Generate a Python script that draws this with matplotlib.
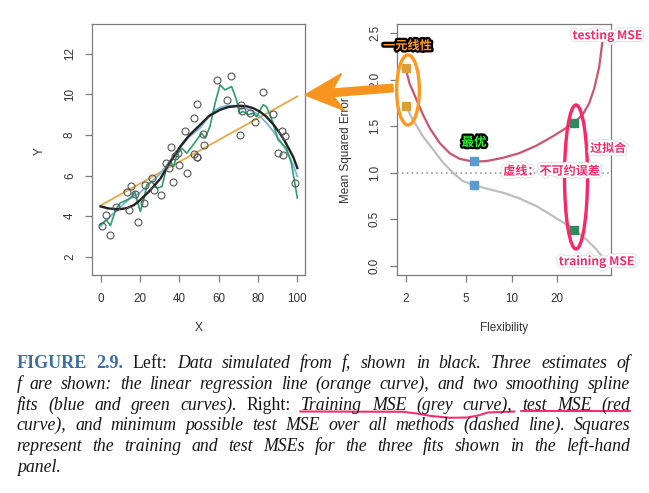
import numpy as np
import matplotlib
matplotlib.use("Agg")
import matplotlib.pyplot as plt
from matplotlib.patches import Ellipse, FancyArrow
from matplotlib.lines import Line2D
from matplotlib.ticker import NullLocator
import matplotlib.patheffects as pe

# ---------------- data: left panel ----------------
obs_x = [0.8, 3.0, 4.7, 7.6, 13.5, 15.5, 14.3, 17.7, 19.1, 22.3, 22.4, 26.1, 27.0,
         30.7, 33.2, 34.9, 35.6, 36.8, 37.9, 39.3, 40.1, 42.8, 43.8, 47.6, 48.9,
         47.7, 48.9, 49.2, 52.3, 52.8, 59.0, 64.1, 66.4, 70.8, 71.5, 72.0, 76.2,
         78.4, 82.5, 87.4, 90.2, 92.3, 92.7, 93.9, 98.7]
obs_y = [3.53, 4.04, 3.07, 4.45, 5.20, 5.51, 4.28, 5.10, 3.69, 4.63, 5.55, 5.88, 5.27,
         5.05, 6.61, 6.37, 7.43, 5.68, 6.98, 7.11, 6.52, 8.21, 6.15, 8.86, 9.52,
         7.07, 6.94, 6.91, 8.04, 7.52, 10.69, 9.70, 10.93, 8.01, 9.47, 9.16, 9.08,
         8.63, 10.11, 9.04, 7.11, 8.21, 7.02, 7.94, 5.63]

true_x = [0, 4, 7.6, 10.5, 13.5, 17, 20, 25, 30.4, 35, 40.5, 45, 50.6, 55, 60.7,
          65, 70.8, 74, 77.6, 81, 84.3, 88, 91, 93.5, 96, 98, 100]
true_y = [4.48, 4.38, 4.35, 4.35, 4.40, 4.55, 4.78, 5.25, 5.85, 6.60, 7.43, 7.98,
          8.50, 8.93, 9.24, 9.38, 9.44, 9.42, 9.32, 9.15, 8.90, 8.50, 8.10, 7.72,
          7.27, 6.90, 6.37]

lin_x = [0, 100]
lin_y = [4.53, 9.90]

blue_x = [0, 3, 6.7, 10, 13.5, 17, 20, 25, 30.4, 35, 40.5, 45, 50.6, 54, 57.3, 60.5,
          64, 67.5, 70.8, 74, 77.6, 81, 84.3, 88, 91, 93.5, 96, 98, 100]
blue_y = [3.50, 3.80, 4.15, 4.45, 4.75, 5.00, 5.15, 5.62, 6.10, 6.70, 7.40, 7.90,
          8.35, 8.78, 9.16, 9.35, 9.44, 9.45, 9.40, 9.30, 9.16, 8.92, 8.60, 8.15,
          7.76, 7.38, 6.94, 6.50, 5.96]

green_x = [0, 3, 5, 7.6, 10, 13.5, 16, 17.4, 18.5, 20.2, 21.9, 23.6, 26, 28.7, 31.2,
           33.7, 35.4, 37.1, 38.8, 41.3, 43.8, 46.4, 48.9, 51.4, 53.1, 55.6, 58.2,
           60.7, 63.2, 64.9, 66.6, 69.1, 70.5, 72.5, 75, 77.6, 79.3, 82.6, 84.3,
           86, 87.7, 90.2, 91.9, 94.4, 97, 100]
green_y = [3.58, 3.82, 3.53, 4.30, 4.65, 4.80, 4.97, 5.20, 4.80, 4.23, 4.80, 5.55,
           5.70, 5.38, 5.46, 6.45, 6.70, 6.45, 7.03, 7.35, 7.10, 7.43, 7.76, 8.09,
           7.85, 8.42, 9.57, 10.47, 10.22, 10.30, 10.39, 9.73, 9.08, 9.16, 9.00,
           9.08, 8.90, 9.49, 9.40, 9.00, 8.58, 7.76, 7.60, 7.35, 6.60, 4.90]

left_xticks = [0, 20, 40, 60, 80, 100]
left_yticks = [2, 4, 6, 8, 10, 12]

# ---------------- data: right panel ----------------
test_flex = [2.0, 2.12, 2.35, 2.6, 2.88, 3.35, 3.9, 4.53, 5.54, 6.8, 8.74, 11.2,
             14.5, 18.6, 22.8, 25.9, 29.4, 32.5, 35.1, 37.8, 39.8]
test_mse = [2.12, 1.96, 1.79, 1.625, 1.48, 1.32, 1.21, 1.15, 1.12, 1.125, 1.16,
            1.21, 1.29, 1.39, 1.48, 1.54, 1.625, 1.75, 1.91, 2.14, 2.43]

train_flex = [2.0, 2.23, 2.6, 3.03, 3.52, 4.1, 4.76, 5.6, 6.8, 8.74, 11.2, 14.5,
              18.6, 22.8, 25.9, 30.9, 36.0, 39.8]
train_mse = [1.72, 1.57, 1.39, 1.25, 1.11, 1.00, 0.91, 0.87, 0.83, 0.786, 0.725,
             0.643, 0.536, 0.446, 0.39, 0.286, 0.18, 0.09]

fit_flex = [2.0, 5.6, 25.9]
fit_test = [2.13, 1.13, 1.53]
fit_train = [1.72, 0.87, 0.38]
fit_colors = ["#D9A03A", "#5B9BD0", "#2F8A60"]

irreducible = 1.0
right_xticks = [2, 5, 10, 20]
right_yticks = [0.0, 0.5, 1.0, 1.5, 2.0, 2.5]

# ---------------- figure ----------------
W, H = 649, 493
fig = plt.figure(figsize=(W / 100, H / 100), dpi=100)
fig.patch.set_facecolor("white")

def fx(x):
    return x / W

def fy(y):
    return 1 - y / H

TICKFONT = ["Liberation Sans", "DejaVu Sans"]
SPINE = "#7a7a7a"
LAB = "#333333"

def style_axes(ax):
    for s in ax.spines.values():
        s.set_color(SPINE)
        s.set_linewidth(0.9)
    ax.tick_params(direction="out", length=4.8, width=0.9, color=SPINE,
                   labelcolor=LAB, labelsize=8.4)
    for lab in ax.get_xticklabels() + ax.get_yticklabels():
        lab.set_family(TICKFONT)

# Left panel
axL = fig.add_axes([fx(92.3), fy(275), (305 - 92.3) / W, (275 - 24) / H])
axL.plot(lin_x, lin_y, color="#E6AA45", lw=1.3, zorder=2)
axL.plot(blue_x, blue_y, color="#7DB4DE", lw=1.3, zorder=3)
axL.plot(green_x, green_y, color="#2E9C6C", lw=1.2, zorder=3)
axL.plot(true_x, true_y, color="#222222", lw=1.7, zorder=4)
axL.plot(obs_x, obs_y, linestyle="none", marker="o", ms=5, mfc="none",
         mec="#555555", mew=0.8, zorder=5)
axL.set_xlim(-4.2, 103.9)
axL.set_ylim(1.1, 13.47)
axL.set_xticks(left_xticks)
axL.set_yticks(left_yticks)
axL.set_xticklabels([str(v) for v in left_xticks])
axL.set_yticklabels([str(v) for v in left_yticks])
style_axes(axL)
axL.tick_params(axis="x", pad=8)
axL.tick_params(axis="y", pad=7, labelrotation=90)
for lab in axL.get_yticklabels():
    lab.set_va("center")

# Right panel
axR = fig.add_axes([fx(397.3), fy(275), (611 - 397.3) / W, (275 - 24) / H])
axR.set_xscale("log")
axR.axhline(irreducible, color="#8a8a8a", lw=1.1, ls=(0, (1, 2.2)), zorder=1)
axR.plot(train_flex, train_mse, color="#BDBDBD", lw=1.6, zorder=2)
axR.plot(test_flex, test_mse, color="#C9566F", lw=1.6, zorder=2)
for xv, t1, t2, c in zip(fit_flex, fit_test, fit_train, fit_colors):
    axR.plot([xv, xv], [t1, t2], linestyle="none", marker="s", ms=5.4,
             color=c, zorder=4)
axR.set_xlim(1.76, 45.2)
axR.set_ylim(-0.1, 2.6)
axR.set_xticks(right_xticks)
axR.set_xticklabels([str(v) for v in right_xticks])
axR.xaxis.set_minor_locator(NullLocator())
axR.set_yticks(right_yticks)
axR.set_yticklabels(["%.1f" % v for v in right_yticks])
style_axes(axR)
axR.tick_params(axis="x", pad=8)
axR.tick_params(axis="y", pad=7, labelrotation=90)
for lab in axR.get_yticklabels():
    lab.set_va("center")

# axis labels
fig.text(fx(40), fy(151), "Y", rotation=90, ha="center", va="center",
         fontsize=8.6, color=LAB, family=TICKFONT)
fig.text(fx(199), fy(328), "X", ha="center", va="center",
         fontsize=8.6, color=LAB, family=TICKFONT)
fig.text(fx(346), fy(150), "Mean Squared Error", rotation=90, ha="center",
         va="center", fontsize=8.4, color=LAB, family=TICKFONT)
fig.text(fx(504), fy(328), "Flexibility", ha="center", va="center",
         fontsize=8.4, color=LAB, family=TICKFONT)

# ---------------- annotations ----------------
CJK = ["Noto Sans CJK SC", "DejaVu Sans"]
PINK = "#F42D6B"
ORANGE = "#F7941D"
pink_fx = [pe.Stroke(linewidth=4.2, foreground="#d8d8d8"),
           pe.Stroke(linewidth=3.2, foreground="white"), pe.Normal()]
dark_fx = [pe.Stroke(linewidth=3.2, foreground="black"), pe.Normal()]

def inch(x, y):
    return (x / 100, (H - y) / 100)

ell1 = Ellipse(inch(408, 90), 22.7 / 100, 70 / 100, fill=False,
               ec="#FF981E", lw=2.4, transform=fig.dpi_scale_trans, zorder=20)
ell2 = Ellipse(inch(576, 177), 23 / 100, 144 / 100, fill=False,
               ec="#FF2466", lw=2.4, transform=fig.dpi_scale_trans, zorder=20)
fig.add_artist(ell1)
fig.add_artist(ell2)

tx, ty = inch(393, 88)
hx, hy = inch(305, 95)
arrow = FancyArrow(tx, ty, hx - tx, hy - ty, width=0.075, head_width=0.37,
                   head_length=0.38, length_includes_head=True, overhang=0.25,
                   color=ORANGE, transform=fig.dpi_scale_trans, zorder=25)
fig.add_artist(arrow)

fig.text(fx(407.5), fy(46), "一元线性", ha="center", va="center", fontsize=8.8,
         weight="bold", color="#FF9A1E", family=CJK, path_effects=dark_fx,
         zorder=30)
fig.text(fx(474), fy(142.5), "最优", ha="center", va="center", fontsize=9,
         weight="bold", color="#2CF02C", family=CJK, path_effects=dark_fx,
         zorder=30)
fig.text(fx(608), fy(148.5), "过拟合", ha="center", va="center", fontsize=8.6,
         weight="bold", color=PINK, family=CJK, path_effects=pink_fx, zorder=30)
fig.text(fx(551.7), fy(171.2), "虚线：不可约误差", ha="center", va="center",
         fontsize=8.7, weight="bold", color=PINK, family=CJK,
         path_effects=pink_fx, zorder=30)
fig.text(fx(607.3), fy(35.7), "testing MSE", ha="center", va="center",
         fontsize=8.7, weight="bold", color=PINK, family=CJK,
         path_effects=pink_fx, zorder=30)
fig.text(fx(596.7), fy(261.7), "training MSE", ha="center", va="center",
         fontsize=8.7, weight="bold", color=PINK, family=CJK,
         path_effects=pink_fx, zorder=30)

# ---------------- caption ----------------
def words(s, st):
    return [(w, st) for w in s.split()]

caption_lines = [
    words("FIGURE 2.9.", "b") + words("Left:", "r")
    + words("Data simulated from f, shown in black. Three estimates of", "i"),
    words("f are shown: the linear regression line (orange curve), and two smoothing spline", "i"),
    words("fits (blue and green curves).", "i") + words("Right:", "r")
    + words("Training MSE (grey curve), test MSE (red", "i"),
    words("curve), and minimum possible test MSE over all methods (dashed line). Squares", "i"),
    words("represent the training and test MSEs for the three fits shown in the left-hand", "i"),
    words("panel.", "i"),
]
baselines = [368, 389, 409.5, 430, 451, 472]
X0, X1 = 16.7, 630
SERIF = "Liberation Serif"

fig.canvas.draw()
renderer = fig.canvas.get_renderer()

def make_styles(cs):
    return {
        "b": dict(family=SERIF, weight="bold", color="#3A6EA5", size=cs * 1.02),
        "r": dict(family=SERIF, color="#151515", size=cs),
        "i": dict(family=SERIF, style="italic", color="#151515", size=cs),
    }

# choose the largest caption size whose justified gaps stay natural
CS = 12.8
while True:
    styles = make_styles(CS)
    ok = True
    for line in caption_lines[:-1]:
        tmp = [fig.text(0, 0, w, **styles[st]) for w, st in line]
        tot = sum(t.get_window_extent(renderer).width for t in tmp)
        for t in tmp:
            t.remove()
        if (X1 - X0 - tot) / (len(line) - 1) < 4.6:
            ok = False
            break
    if ok or CS < 9:
        break
    CS -= 0.1

placed = []
for k, (line, yb) in enumerate(zip(caption_lines, baselines)):
    texts = [fig.text(0, fy(yb), w, ha="left", va="baseline", **styles[st])
             for w, st in line]
    widths = [t.get_window_extent(renderer).width for t in texts]
    if len(texts) > 1 and k < len(caption_lines) - 1:
        gap = (X1 - X0 - sum(widths)) / (len(texts) - 1)
    else:
        gap = 5.0
    xpos = X0
    row = []
    for t, w in zip(texts, widths):
        t.set_x(fx(xpos))
        row.append((t.get_text(), xpos, xpos + w))
        xpos += w + gap
    placed.append(row)

# pink hand-drawn underline under "Training MSE (grey curve), test MSE (red"
row3 = placed[2]
names = [r[0] for r in row3]
i_tr = names.index("Training")
i_cv = names.index("curve),")
i_te = names.index("test")
seg1 = (row3[i_tr][1] - 1, row3[i_cv][2] + 2)
seg2 = (row3[i_te][1] - 1, row3[-1][2])
wave_frac = [0.0, 0.48, 0.545, 0.61, 0.70, 0.78, 0.83, 0.875, 1.0]
wave_y = [411.5, 411.8, 413.5, 416, 417.8, 417.5, 415.5, 412.5, 411.5]
ul1_x = [seg1[0] + f * (seg1[1] - seg1[0]) for f in wave_frac]
ul2_x = [seg2[0], seg2[1]]
ul2_y = [411.2, 411.2]
for xs, ys in ((ul1_x, wave_y), (ul2_x, ul2_y)):
    fig.add_artist(Line2D([fx(v) for v in xs], [fy(v) for v in ys],
                          color="#F0306E", lw=1.5, solid_capstyle="round",
                          transform=fig.transFigure))

fig.savefig("out.png", dpi=100, facecolor="white")
